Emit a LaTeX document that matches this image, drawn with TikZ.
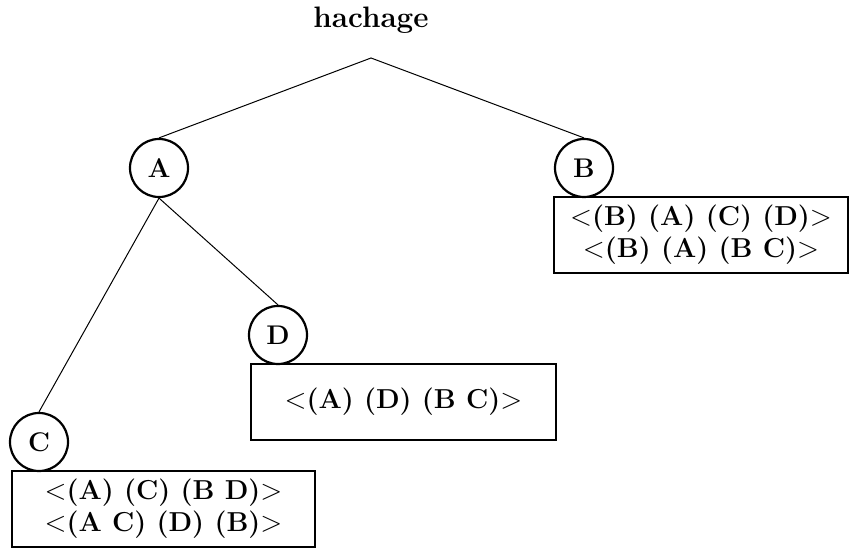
\documentclass[tikz,border=0pt]{standalone}
\begin{document}
\begin{tikzpicture}[x=0.5pt,y=-0.5pt,
  circ/.style={circle,draw,line width=1.1pt,minimum size=29pt,inner sep=0pt,font=\fontsize{13.5}{16}\selectfont\bfseries},
  keybox/.style={rectangle,draw,line width=1.3pt,inner sep=0pt,align=center,font=\fontsize{13.7}{16}\selectfont\bfseries},
  edge/.style={line width=0.5pt}]
\useasboundingbox (0,0) rectangle (849,549);
\node[font=\fontsize{14.8}{17}\selectfont\bfseries] (title) at (371,20) {hachage};
\coordinate (apex) at (371,58);
\node[circ] (A) at (159,168) {A};
\node[circ] (B) at (584,168) {B};
\node[circ] (D) at (278,335) {D};
\node[circ] (C) at (39,442) {C};
\node[keybox,minimum width=147pt,minimum height=38pt] (bB) at (701,235) {$<$(B) (A) (C) (D)$>$\\$<$(B) (A) (B C)$>$};
\node[keybox,minimum width=152.5pt,minimum height=38pt] (bD) at (403.5,402) {$<$(A) (D) (B C)$>$};
\node[keybox,minimum width=151.5pt,minimum height=38pt] (bC) at (163.5,509) {$<$(A) (C) (B D)$>$\\$<$(A C) (D) (B)$>$};
\draw[edge] (A.north) -- (apex) -- (B.north);
\draw[edge] (A.south) -- (C.north);
\draw[edge] (A.south) -- (D.north);
\end{tikzpicture}
\end{document}
